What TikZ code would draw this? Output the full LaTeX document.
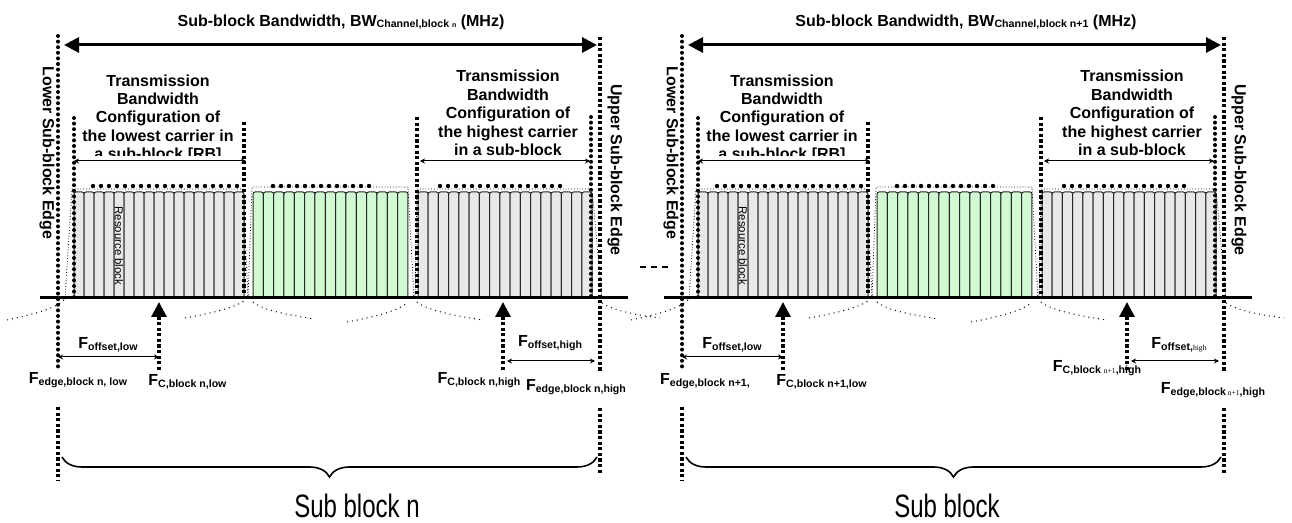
\documentclass[tikz,border=0pt]{standalone}
\usepackage{fontspec}
\setmainfont{Liberation Sans}
\newfontfamily\tinyserif{Liberation Serif}
\usetikzlibrary{arrows.meta, decorations.pathreplacing, calc}

\definecolor{rbgrey}{RGB}{232,232,232}
\definecolor{rbgreen}{RGB}{210,250,210}

\newcommand{\lblfont}{\fontsize{8}{9.2}\selectfont\bfseries}
\newcommand{\lsub}[1]{\raisebox{-0.8pt}{\fontsize{5.3}{6}\selectfont #1}}
\newcommand{\garb}[1]{{\tinyserif\mdseries\fontsize{3.8}{4}\selectfont #1}}

\begin{document}
\begin{tikzpicture}[x=0.5pt, y=-0.5pt,
    rb/.style={draw=black!85, line width=0.5pt, rounded corners=1pt},
    envelope/.style={densely dotted, line width=0.4pt},
    bigdots/.style={line width=2.2pt, line cap=round, dash pattern=on 0pt off 4pt},
    rounddots/.style={line width=2pt, line cap=round, dash pattern=on 0pt off 2.8pt},
    squaredots/.style={line width=1.6pt, dash pattern=on 1.6pt off 1.2pt},
    thinarrow/.style={line width=0.5pt, {Stealth[length=2.5pt,width=2.5pt]}-{Stealth[length=2.5pt,width=2.5pt]}},
    bwarrow/.style={line width=1.5pt, {Triangle[length=7.5pt,width=7.5pt]}-{Triangle[length=7.5pt,width=7.5pt]}},
    fcarrow/.style={squaredots, -{Triangle[length=7.5pt,width=7.5pt]}},
    skirt/.style={dotted, line width=0.5pt},
    lbl/.style={font=\lblfont, inner sep=0pt},
    tbc/.style={font=\lblfont, align=center, inner sep=0pt},
    subblock/.style={font=\fontsize{12}{13}\selectfont, inner sep=0pt},
    ]
\useasboundingbox (0,0) rectangle (1292,523);

% one panel per sub-block, the right one shifted
\foreach \ox/\p in {0/L, 624/R}{
  \begin{scope}[shift={(\ox,0)}]
    % resource blocks
    \foreach \i in {0,...,16}
      \draw[rb, fill=rbgrey] ({74+\i*10},192) rectangle ++(10,106);
    \foreach \i in {0,...,14}
      \draw[rb, fill=rbgreen] ({253+\i*10.33},192) rectangle ++(10.33,106);
    \foreach \i in {0,...,16}
      \draw[rb, fill=rbgrey] ({418+\i*10.24},192) rectangle ++(10.24,106);
    \node[rotate=-90, inner sep=0pt, font=\fontsize{5.7}{6}\selectfont] (res\p) at (119,246) {Resource block};

    % envelopes
    \draw[envelope] (65,298) -- (72,189) -- (243,189) -- (248,298);
    \draw[envelope] (248,298) -- (252,187) -- (408,187) -- (414,298);
    \draw[envelope] (415,298) -- (417,189) -- (592,189) -- (602,298);
    \draw[bigdots] (93,186) -- (240,186);
    \draw[bigdots] (273,186) -- (373,186);
    \draw[bigdots] (440,186) -- (563,186);

    % skirts
    \draw[skirt] (7,320) .. controls (35,314) and (57,308) .. (65,299);
    \draw[skirt] (185,318) .. controls (213,313) and (237,307) .. (245,300);
    \draw[skirt] (253,302) .. controls (262,310) and (288,315) .. (315,319);
    \draw[skirt] (347,322) .. controls (375,317) and (400,310) .. (407,303);
    \draw[skirt] (417,302) .. controls (426,310) and (455,316) .. (483,320);
    \draw[skirt] (602,303) .. controls (612,310) and (635,315) .. (660,318);

    \draw[line width=1.5pt] (40,298) -- (628,298);

    % sub-block edges
    \coordinate (lotop\p) at (58,36);
    \coordinate (lobot\p) at (58,368);
    \coordinate (hitop\p) at (600,37);
    \coordinate (hibot\p) at (600,372);
    \draw[rounddots] (lotop\p) -- (lobot\p);
    \draw[squaredots] (hitop\p) -- (hibot\p);
    \draw[squaredots] (58,407) -- (58,480);
    \draw[squaredots] (600,408) -- (600,475);
    \node[lbl, rotate=-90] (lowedge\p) at (47,153) {Lower Sub-block Edge};
    \node[lbl, rotate=-90] (upedge\p) at (615,170) {Upper Sub-block Edge};

    \coordinate (bwl\p) at (64,45);
    \coordinate (bwr\p) at (597,45);
    \draw[bwarrow] (bwl\p) -- (bwr\p);

    % transmission bandwidth configurations
    \draw[rounddots] (74,118) -- (74,298);
    \draw[squaredots] (244,122) -- (244,298);
    \coordinate (tlol\p) at (74,161);
    \coordinate (tlor\p) at (246,161);
    \draw[thinarrow] (tlol\p) -- (tlor\p);
    \draw[squaredots] (417,117) -- (417,298);
    \draw[rounddots] (591,117) -- (591,298);
    \coordinate (thil\p) at (420,161);
    \coordinate (thir\p) at (590,161);
    \draw[thinarrow] (thil\p) -- (thir\p);
    \node[tbc] (tbclo\p) at (158,108) {Transmission\\Bandwidth\\Configuration of\\the lowest carrier in};
    \begin{scope}
      \clip (80,146) rectangle (240,156);
      \node[tbc] (tbccut\p) at (158,155) {a sub-block [RB]};
    \end{scope}
    \node[tbc] (tbchi\p) at (508,113) {Transmission\\Bandwidth\\Configuration of\\the highest carrier\\in a sub-block};

    % carrier centres and offsets
    \coordinate (fclo\p) at (159,370);
    \coordinate (fclotip\p) at (159,302);
    \draw[fcarrow] (fclo\p) -- (fclotip\p);
    \coordinate (fchi\p) at (503,370);
    \coordinate (fchitip\p) at (503,302);
    \draw[fcarrow] (fchi\p) -- (fchitip\p);
    \coordinate (offlol\p) at (58,357);
    \coordinate (offlor\p) at (159,357);
    \draw[thinarrow] (offlol\p) -- (offlor\p);
    \coordinate (offhil\p) at (507,361);
    \coordinate (offhir\p) at (595,361);
    \draw[thinarrow] (offhil\p) -- (offhir\p);
    \node[lbl] (offlo\p) at (108,345) {F\lsub{offset,low}};

    \draw[decorate, decoration={brace, mirror, amplitude=10pt}, line width=0.8pt] (62,457) -- (597,457);
  \end{scope}
}

% sub-block n
\node[lbl] (bwL) at (341,22) {Sub-block Bandwidth, BW\lsub{Channel,block {\fontsize{3.5}{4}\selectfont n}} (MHz)};
\node[lbl] (fedgeloL) at (78,380) {F\lsub{edge,block n, low}};
\node[lbl, anchor=west] (fcloL) at (148,382) {F\lsub{C,block n,low}};
\node[lbl] (offhiL) at (550,343) {F\lsub{offset,high}};
\node[lbl] (fchiL) at (479,380) {F\lsub{C,block n,high}};
\node[lbl] (fedgehiL) at (576,387) {F\lsub{edge,block n,high}};
\node[subblock] (subL) at (357,506) {\scalebox{1}[1.35]{Sub block n}};

% sub-block n+1
\node[lbl] (bwR) at (966,22) {Sub-block Bandwidth, BW\lsub{Channel,block n+1} (MHz)};
\node[lbl] (fedgeloR) at (705,381) {F\lsub{edge,block n+1,}};
\node[lbl, anchor=west] (fcloR) at (776,382) {F\lsub{C,block n+1,low}};
\node[lbl] (offhiR) at (1179,345) {F\lsub{offset,\garb{high}}};
\node[lbl] (fchiR) at (1097,368) {F\lsub{C,block \garb{n+1},high}};
\node[lbl] (fedgehiR) at (1213,390) {F\lsub{edge,block\,\garb{n+1},high}};
\node[subblock] (subR) at (947,506) {\scalebox{1}[1.35]{Sub block}};

% more sub-blocks in between
\coordinate (gapa) at (640,267);
\coordinate (gapb) at (668,267);
\draw[line width=1pt, dash pattern=on 3pt off 2.5pt] (gapa) -- (gapb);
\end{tikzpicture}
\end{document}
